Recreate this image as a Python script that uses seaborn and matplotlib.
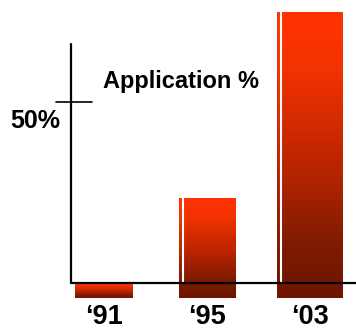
import numpy as np
import pandas as pd
import matplotlib
matplotlib.use("Agg")
import matplotlib.pyplot as plt
from matplotlib.colors import LinearSegmentedColormap
import seaborn as sns

# data
years = ["\u201891", "\u201895", "\u201803"]
application_pct = [0, 23.5, 75]
tick_value = 50
tick_label = "50%"
title_text = "Application %"

sns.set_style("white")
plt.rcParams['font.family'] = ['Liberation Sans', 'DejaVu Sans']
plt.rcParams['text.color'] = 'black'

df = pd.DataFrame({"year": years, "pct": application_pct})

fig = plt.figure(figsize=(3.56, 3.29), dpi=100)
ax = fig.add_axes([0, 0, 1, 1])

sns.barplot(data=df, x="year", y="pct", color="#FF3300", width=0.56,
            ax=ax, zorder=1)

ax.set_xlim(-1.01, 2.447)
ax.set_ylim(-12.7, 78.2)
ax.axis('off')

# bars hang a bit below the axis line, with a red->dark gradient
baseline = -4.14
widths = [0.56, 0.55, 0.64]
grad = LinearSegmentedColormap.from_list(
    "bar", [(0.0, "#6E1600"), (0.17, "#7C1A00"), (0.45, "#B82400"),
            (0.8, "#F23200"), (1.0, "#FF3300")])
img = np.linspace(0, 1, 256).reshape(-1, 1)

for i, (patch, val, w) in enumerate(zip(ax.patches, application_pct, widths)):
    cx = patch.get_x() + patch.get_width() / 2
    patch.set_x(cx - w / 2)
    patch.set_width(w)
    patch.set_y(baseline)
    patch.set_height(val - baseline)
    patch.set_edgecolor("none")
    x0 = cx - w / 2
    im = ax.imshow(img, extent=[x0, x0 + w, baseline, val], origin='lower',
                   cmap=grad, aspect='auto', zorder=2)
    im.set_clip_path(patch)
    # thin white highlight stripe near the left edge
    if val > 5:
        ax.plot([x0 + 0.04, x0 + 0.04], [0, val], color="white", lw=1.5,
                zorder=3, solid_capstyle='butt')

# axis lines
ax.plot([-0.325, -0.325], [0, 66], color="black", lw=1.6, zorder=4)
ax.plot([-0.325, 2.45], [0, 0], color="black", lw=1.6, zorder=4)
ax.plot([-0.466, -0.117], [tick_value, tick_value], color="black", lw=1.2, zorder=4)

ax.text(-0.665, 42.8, tick_label, ha="center", va="baseline",
        fontsize=18, fontweight="bold", color="black")
ax.text(0.743, 53.9, title_text, ha="center", va="baseline",
        fontsize=17, fontweight="bold", color="black")
for i, lab in enumerate(years):
    ax.text(i, -11.2, lab, ha="center", va="baseline",
            fontsize=19.5, fontweight="bold", color="black")

fig.savefig("out.png", dpi=100)
